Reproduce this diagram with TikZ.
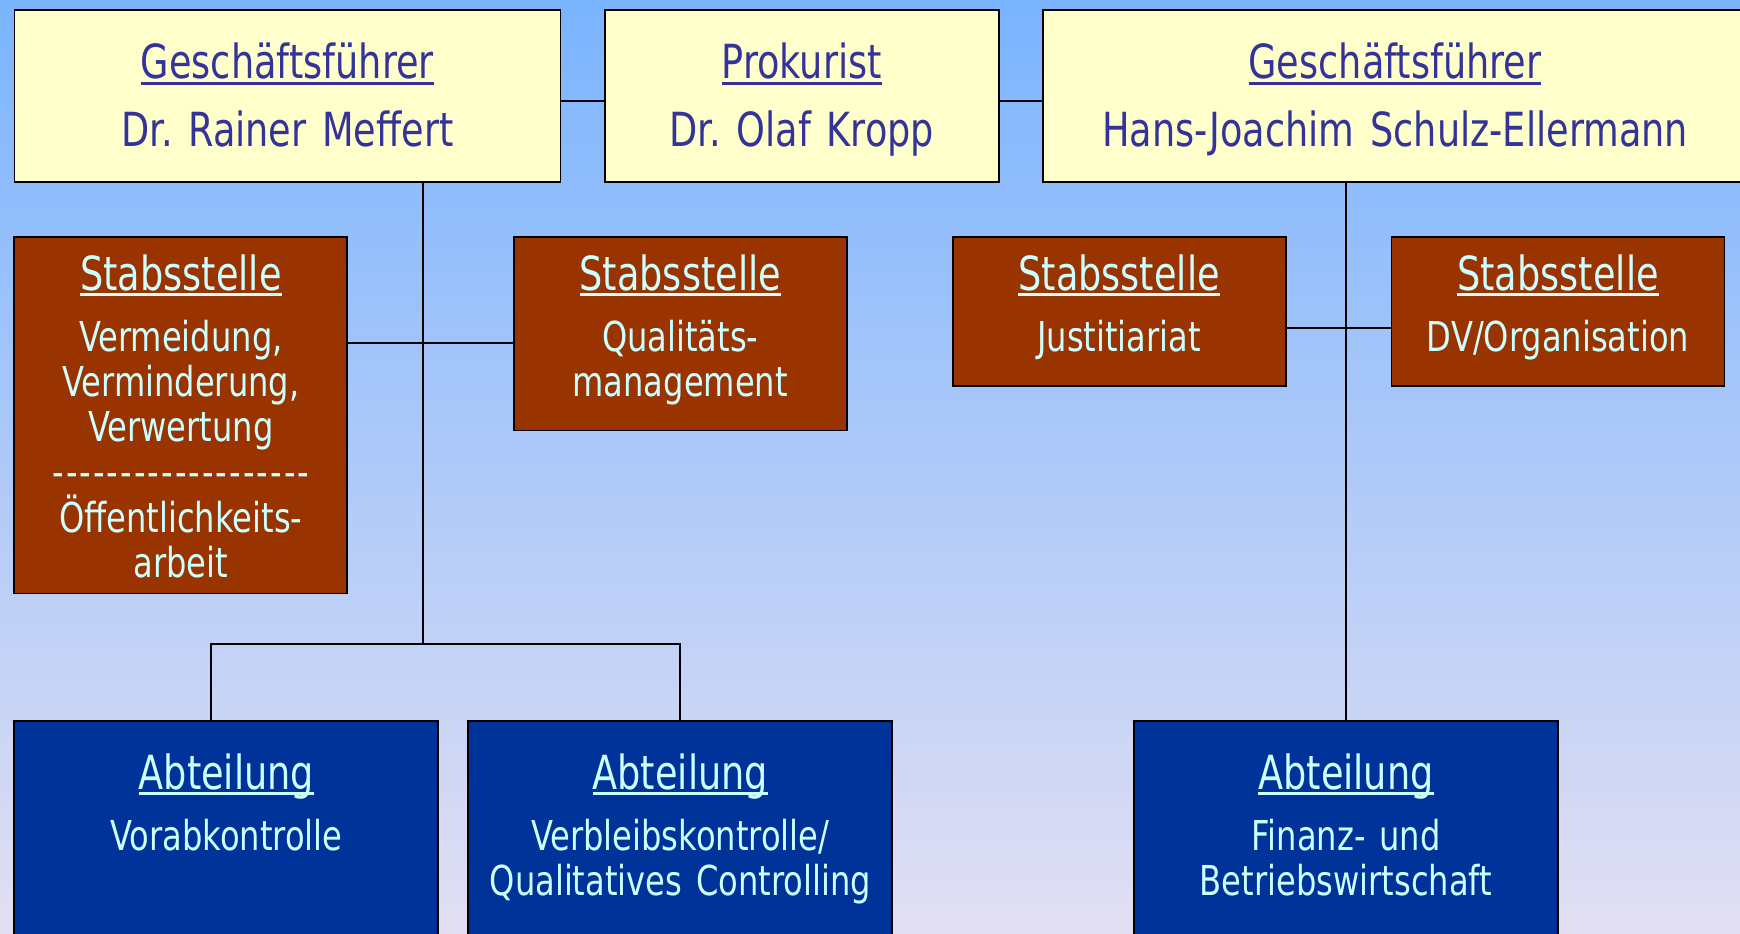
\documentclass[tikz,border=0pt]{standalone}
\usepackage{fontspec}
\setmainfont[FakeStretch=0.78]{DejaVu Sans}
\frenchspacing
\definecolor{bgtop}{RGB}{122,180,255}
\definecolor{bgbottom}{RGB}{226,223,242}
\definecolor{chefyellow}{RGB}{255,255,204}
\definecolor{chefblue}{RGB}{51,51,153}
\definecolor{stabbrown}{RGB}{153,51,0}
\definecolor{abtblue}{RGB}{0,51,153}
\definecolor{paletext}{RGB}{204,255,255}
\newcommand\ulword[1]{\setbox0\hbox{#1}\rlap{\vrule width\wd0 height -1.5pt depth 3pt}\box0}
\newcommand\boxhead[1]{{\fontsize{23.5}{22.6}\selectfont\ulword{#1}}\\[8pt]}
\newcommand\dashrow{\leavevmode\hbox to 129.5pt{\xleaders\hbox to 6.8pt{\hss-\hss}\hfill}}
\tikzset{
    orgbox/.style={
        draw=black, line width=0.9pt, inner sep=0pt, anchor=north, align=center
    },
    chefbox/.style={
        orgbox, fill=chefyellow, text=chefblue,
        font=\fontsize{23.5}{33.85}\selectfont\lineskiplimit-20pt,
        text height=34.4pt, text depth=51.6pt
    },
    stabbox/.style={
        orgbox, fill=stabbrown, text=paletext, text width=166.5pt,
        font=\fontsize{20.6}{22.6}\selectfont\lineskiplimit-20pt,
        text height=26.4pt
    },
    abtbox/.style={
        orgbox, fill=abtblue, text=paletext, text width=212pt,
        font=\fontsize{20.6}{22.6}\selectfont\lineskiplimit-20pt,
        text height=34.05pt, text depth=100pt
    },
    link/.style={line width=0.9pt}
}
\begin{document}
\begin{tikzpicture}[x=0.5pt,y=-0.5pt]
\useasboundingbox (0,0) rectangle (1740,933);
\clip (0,0) rectangle (1740,933);
\shade[top color=bgtop,bottom color=bgbottom] (0,0) rectangle (1740,933);

\node[chefbox,text width=273pt] (gf1) at (287.4,9) {\ulword{Geschäftsführer}\\Dr. Rainer Meffert};
\node[chefbox,text width=197pt] (prok) at (801.75,9) {\ulword{Prokurist}\\Dr. Olaf Kropp};
\node[chefbox,text width=352pt] (gf2) at (1395,9) {\ulword{Geschäftsführer}\\Hans-Joachim Schulz-Ellermann};

\node[stabbox,text depth=151.7pt] (stab1) at (180.85,236.4)
    {\boxhead{Stabsstelle}Vermeidung,\\Verminderung,\\Verwertung\\\dashrow\\Öffentlichkeits-\\arbeit};
\node[stabbox,text depth=70.15pt] (stab2) at (680.25,236.4) {\boxhead{Stabsstelle}Qualitäts-\\management};
\node[stabbox,text depth=47.9pt] (stab3) at (1119.1,236.4) {\boxhead{Stabsstelle}Justitiariat};
\node[stabbox,text depth=47.9pt] (stab4) at (1558,236.4) {\boxhead{Stabsstelle}DV/Organisation};

\node[abtbox] (abt1) at (226.35,720.2) {\boxhead{Abteilung}Vorabkontrolle};
\node[abtbox] (abt2) at (680.25,720.2) {\boxhead{Abteilung}Verbleibskontrolle/\\Qualitatives Controlling};
\node[abtbox] (abt3) at (1346,720.2) {\boxhead{Abteilung}Finanz- und\\Betriebswirtschaft};

\coordinate (fork) at (422.8,643.6);
\draw[link] ([yshift=-2.5pt]gf1.east) -- ([yshift=-2.5pt]gf1.east -| prok.west);
\draw[link] ([yshift=-2.5pt]prok.east) -- ([yshift=-2.5pt]prok.east -| gf2.west);
\draw[link] (gf1.south -| fork) -- (fork);
\draw[link] ([xshift=-7.6pt]abt1.north) |- (fork) -| (abt2.north);
\draw[link] ([yshift=-4.4pt]stab2.west) -- ([yshift=-4.4pt]stab2.west -| stab1.east);
\draw[link] ([yshift=-8.35pt]stab3.east) -- ([yshift=-8.35pt]stab3.east -| stab4.west);
\draw[link] (gf2.south -| abt3.north) -- (abt3.north);
\end{tikzpicture}
\end{document}
